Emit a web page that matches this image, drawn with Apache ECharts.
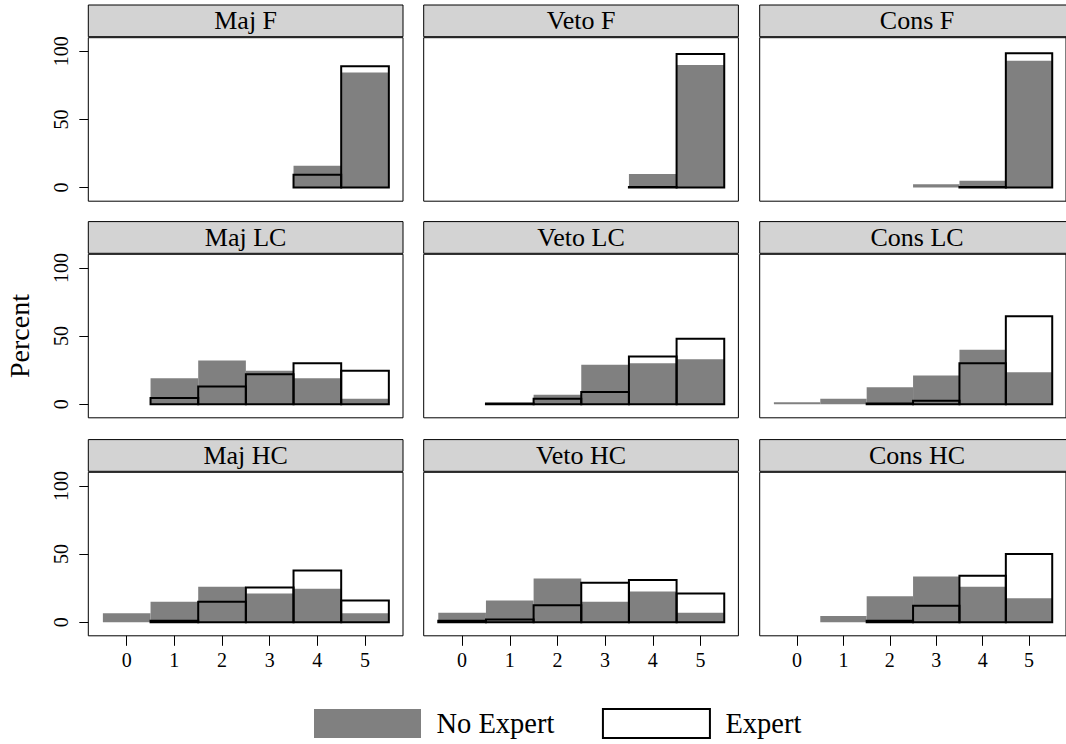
<!DOCTYPE html>
<html>
<head>
<meta charset="utf-8">
<script src="https://cdn.jsdelivr.net/npm/echarts@6/dist/echarts.min.js"></script>
<style>
html,body{margin:0;padding:0;background:#fff;}
#chart{width:1066px;height:744px;}
</style>
</head>
<body>
<div id="chart"></div>
<script>
// ---- data ----
const categories = [0, 1, 2, 3, 4, 5];
const xTicks = [0, 1, 2, 3, 4, 5];
const yTicks = [0, 50, 100];
const panelTitles = ['Maj F', 'Veto F', 'Cons F', 'Maj LC', 'Veto LC', 'Cons LC', 'Maj HC', 'Veto HC', 'Cons HC'];
const seriesNames = ['No Expert', 'Expert'];

const majF_noExpert  = [null, null, null, null, 16, 84.5];
const majF_expert    = [null, null, null, null, 9.5, 89];
const vetoF_noExpert = [null, null, null, null, 10, 90];
const vetoF_expert   = [null, null, null, null, 0.5, 98];
const consF_noExpert = [null, null, null, 2.5, 5, 93];
const consF_expert   = [null, null, null, null, 0.5, 98.5];

const majLC_noExpert  = [null, 19, 32, 24.5, 19, 4];
const majLC_expert    = [null, 4.5, 13, 22, 30, 24.5];
const vetoLC_noExpert = [null, null, 7, 29, 30, 33];
const vetoLC_expert   = [null, 0.5, 4, 9, 35, 48];
const consLC_noExpert = [1.5, 4, 12.5, 21, 40, 23.5];
const consLC_expert   = [null, null, 0.5, 2.5, 30, 64.5];

const majHC_noExpert  = [6.5, 15, 26, 21, 24.5, 6.5];
const majHC_expert    = [null, 1, 15, 25.5, 38, 16];
const vetoHC_noExpert = [7, 16, 32, 15, 22.5, 7];
const vetoHC_expert   = [1, 2, 12.5, 29, 31, 21];
const consHC_noExpert = [null, 4.5, 19, 33.5, 26, 17.5];
const consHC_expert   = [null, null, 1, 12, 34, 50];

const noExpertByPanel = [majF_noExpert, vetoF_noExpert, consF_noExpert,
                         majLC_noExpert, vetoLC_noExpert, consLC_noExpert,
                         majHC_noExpert, vetoHC_noExpert, consHC_noExpert];
const expertByPanel = [majF_expert, vetoF_expert, consF_expert,
                       majLC_expert, vetoLC_expert, consLC_expert,
                       majHC_expert, vetoHC_expert, consHC_expert];

// ---- layout ----
const FONT = 'Liberation Serif';
const colLeft = [88.3, 423.7, 759.7];
const panelW = 314.7;
const rowTop = [37.7, 254.3, 472.3];
const plotH = 163.5;
const stripH = 32.7;

const grids = [], xAxes = [], yAxes = [], series = [], graphics = [];

function toPairs(arr) {
  const out = [];
  arr.forEach((v, i) => { if (v !== null) out.push([categories[i], v]); });
  return out;
}

function barRenderer(kind) {
  return function (params, api) {
    const x = api.value(0), v = api.value(1);
    const p0 = api.coord([x - 0.5, 0]);
    const p1 = api.coord([x + 0.5, v]);
    const style = kind === 'gray'
      ? { fill: '#808080', stroke: null }
      : { fill: 'none', stroke: '#000', lineWidth: 2 };
    return {
      type: 'rect',
      shape: { x: p0[0], y: Math.min(p0[1], p1[1]), width: p1[0] - p0[0], height: Math.abs(p0[1] - p1[1]) },
      style: style
    };
  };
}

for (let i = 0; i < 9; i++) {
  const r = Math.floor(i / 3), c = i % 3;
  grids.push({
    left: colLeft[c], top: rowTop[r], width: panelW, height: plotH,
    show: true, borderColor: '#000', borderWidth: 1, backgroundColor: '#fff'
  });
  const bottomRow = r === 2, leftCol = c === 0;
  xAxes.push({
    type: 'value', gridIndex: i, min: -0.806, max: 5.797, position: 'bottom',
    axisLine: { show: false, onZero: false },
    splitLine: { show: false },
    axisTick: { show: bottomRow, inside: false, length: 10, customValues: xTicks, lineStyle: { color: '#000', width: 1 } },
    axisLabel: { show: bottomRow, customValues: xTicks, margin: 14, color: '#000', fontFamily: FONT, fontSize: 20 }
  });
  yAxes.push({
    type: 'value', gridIndex: i, min: -10, max: 110, position: 'left',
    axisLine: { show: false, onZero: false },
    splitLine: { show: false },
    axisTick: { show: leftCol, inside: false, length: 9, customValues: yTicks, lineStyle: { color: '#000', width: 1 } },
    axisLabel: { show: leftCol, customValues: yTicks, rotate: 90, margin: 17, color: '#000', fontFamily: FONT, fontSize: 20 },
    name: (leftCol && r === 1) ? 'Percent' : '',
    nameLocation: 'middle', nameRotate: 90, nameGap: 55,
    nameTextStyle: { color: '#000', fontFamily: FONT, fontSize: 28 }
  });
  series.push({
    type: 'custom', name: seriesNames[0], xAxisIndex: i, yAxisIndex: i,
    renderItem: barRenderer('gray'), data: toPairs(noExpertByPanel[i]),
    encode: { x: 0, y: 1 }, itemStyle: { color: '#808080' }, z: 2, silent: true
  });
  series.push({
    type: 'custom', name: seriesNames[1], xAxisIndex: i, yAxisIndex: i,
    renderItem: barRenderer('outline'), data: toPairs(expertByPanel[i]),
    encode: { x: 0, y: 1 }, itemStyle: { color: '#fff', borderColor: '#000' }, z: 3, silent: true
  });
  graphics.push({
    type: 'group',
    children: [
      { type: 'rect', shape: { x: colLeft[c], y: rowTop[r] - stripH, width: panelW, height: stripH - 1 },
        style: { fill: '#d3d3d3', stroke: '#000', lineWidth: 1 } },
      { type: 'text', x: colLeft[c] + panelW / 2, y: rowTop[r] - stripH / 2 - 0.5,
        style: { text: panelTitles[i], fill: '#000', font: '26px "' + FONT + '"', textAlign: 'center', textVerticalAlign: 'middle' } }
    ]
  });
}

const chart = echarts.init(document.getElementById('chart'), null, { renderer: 'svg', width: 1066, height: 744 });
chart.setOption({
  animation: false,
  backgroundColor: '#fff',
  grid: grids,
  xAxis: xAxes,
  yAxis: yAxes,
  series: series,
  graphic: graphics,
  legend: {
    left: 314, top: 708, padding: 0,
    orient: 'horizontal',
    itemWidth: 107, itemHeight: 29, itemGap: 47.5,
    selectedMode: false,
    textStyle: { color: '#000', fontFamily: FONT, fontSize: 28.5, padding: [0, 0, 0, 10.5] },
    data: [
      { name: seriesNames[0], icon: 'rect', itemStyle: { color: '#808080', borderWidth: 0 } },
      { name: seriesNames[1], icon: 'rect', itemStyle: { color: '#fff', borderColor: '#000', borderWidth: 2 } }
    ]
  }
});
</script>
</body>
</html>
